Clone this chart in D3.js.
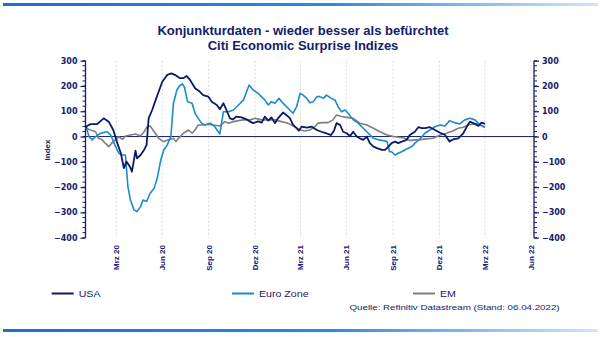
<!DOCTYPE html>
<html><head><meta charset="utf-8">
<script src="https://cdn.jsdelivr.net/npm/d3@7"></script>
<style>
html,body{margin:0;padding:0;background:#fff;}
svg{display:block;}
</style></head>
<body>
<svg id="chart" width="600" height="337"></svg>
<script>
// ---------- DATA ----------
const titleLines = ["Konjunkturdaten - wieder besser als befürchtet", "Citi Economic Surprise Indizes"];
const yLabel = "Index";
const seriesNames = ["USA", "Euro Zone", "EM"];
const sourceText = "Quelle: Refinitiv Datastream (Stand: 06.04.2022)";
const yTicks = [300, 200, 100, 0, -100, -200, -300, -400];
const xTickDates = ["2020-03-31","2020-06-30","2020-09-30","2020-12-31","2021-03-31","2021-06-30","2021-09-30","2021-12-31","2022-03-31","2022-06-30"];
const xTickLabels = ["Mrz 20","Jun 20","Sep 20","Dez 20","Mrz 21","Jun 21","Sep 21","Dez 21","Mrz 22","Jun 22"];

const usa = [
["2020-01-31",33],["2020-02-02",42],["2020-02-09",49],["2020-02-22",49],["2020-03-06",72],["2020-03-16",59],
["2020-03-25",26],["2020-04-02",-26],["2020-04-09",-66],["2020-04-15",-125],["2020-04-20",-99],["2020-04-27",-119],
["2020-05-01",-139],["2020-05-08",-56],["2020-05-11",-86],["2020-05-18",-73],["2020-05-25",-53],["2020-05-30",-33],
["2020-06-03",72],["2020-06-10",105],["2020-06-17",145],["2020-06-23",178],["2020-06-30",217],["2020-07-10",244],
["2020-07-18",250],["2020-07-25",244],["2020-08-04",231],["2020-08-11",231],["2020-08-17",240],["2020-08-24",224],
["2020-09-03",191],["2020-09-12",178],["2020-09-19",164],["2020-09-29",158],["2020-10-06",138],["2020-10-16",125],
["2020-10-22",108],["2020-10-29",132],["2020-11-04",105],["2020-11-11",72],["2020-11-17",68],["2020-11-24",79],
["2020-12-04",76],["2020-12-14",68],["2020-12-21",59],["2020-12-27",53],["2021-01-06",60],["2021-01-13",55],
["2021-01-19",79],["2021-01-26",63],["2021-02-01",76],["2021-02-08",53],["2021-02-14",72],["2021-02-24",95],
["2021-03-03",85],["2021-03-10",72],["2021-03-16",46],["2021-03-23",33],["2021-03-27",23],["2021-04-02",39],
["2021-04-12",35],["2021-04-22",39],["2021-05-02",26],["2021-05-11",19],["2021-05-21",13],["2021-05-30",6],
["2021-06-05",23],["2021-06-10",53],["2021-06-17",46],["2021-06-23",19],["2021-06-30",13],["2021-07-07",2],
["2021-07-13",19],["2021-07-20",0],["2021-07-26",-7],["2021-08-02",-13],["2021-08-09",0],["2021-08-15",-26],
["2021-08-22",-40],["2021-08-29",-46],["2021-09-08",-53],["2021-09-14",-53],["2021-09-21",-40],["2021-09-27",-26],
["2021-10-04",-20],["2021-10-10",-26],["2021-10-17",-20],["2021-10-27",-13],["2021-11-02",6],["2021-11-12",19],
["2021-11-19",37],["2021-11-26",33],["2021-12-02",33],["2021-12-12",37],["2021-12-22",26],["2022-01-01",15],
["2022-01-11",6],["2022-01-20",-20],["2022-01-27",-11],["2022-02-06",-7],["2022-02-16",13],["2022-02-23",39],
["2022-03-01",59],["2022-03-11",50],["2022-03-18",42],["2022-03-24",55],["2022-03-31",50]
];

const euro = [
["2020-01-31",39],["2020-02-06",0],["2020-02-12",-13],["2020-02-19",0],["2020-02-29",13],["2020-03-13",19],
["2020-03-20",6],["2020-03-28",-33],["2020-04-05",-66],["2020-04-12",-73],["2020-04-18",-73],["2020-04-23",-198],
["2020-04-28",-251],["2020-05-05",-290],["2020-05-11",-297],["2020-05-18",-277],["2020-05-23",-251],["2020-05-30",-257],
["2020-06-06",-224],["2020-06-14",-204],["2020-06-20",-165],["2020-06-27",-93],["2020-07-03",-53],["2020-07-10",-33],
["2020-07-17",0],["2020-07-22",130],["2020-07-29",185],["2020-08-03",200],["2020-08-09",208],["2020-08-13",195],
["2020-08-19",138],["2020-08-28",132],["2020-09-03",92],["2020-09-09",72],["2020-09-16",53],["2020-09-23",46],
["2020-10-03",53],["2020-10-12",39],["2020-10-22",10],["2020-10-29",98],["2020-11-08",98],["2020-11-18",105],
["2020-11-28",125],["2020-12-08",145],["2020-12-19",204],["2020-12-27",184],["2021-01-06",171],["2021-01-09",164],
["2021-01-19",145],["2021-01-26",125],["2021-02-01",138],["2021-02-08",132],["2021-02-16",151],["2021-02-24",132],
["2021-03-06",112],["2021-03-16",92],["2021-03-23",118],["2021-03-30",171],["2021-04-05",164],["2021-04-12",151],
["2021-04-18",134],["2021-04-25",138],["2021-05-02",158],["2021-05-08",158],["2021-05-15",151],["2021-05-21",164],
["2021-05-31",151],["2021-06-07",145],["2021-06-13",118],["2021-06-20",98],["2021-06-27",105],["2021-07-03",92],
["2021-07-13",66],["2021-07-23",53],["2021-08-02",33],["2021-08-12",13],["2021-08-22",-7],["2021-09-01",-13],
["2021-09-11",-16],["2021-09-18",-20],["2021-09-23",-60],["2021-09-27",-60],["2021-10-04",-73],["2021-10-10",-66],
["2021-10-17",-60],["2021-10-23",-53],["2021-10-30",-46],["2021-11-06",-40],["2021-11-12",-26],["2021-11-22",-10],
["2021-12-02",13],["2021-12-12",26],["2021-12-22",39],["2022-01-01",46],["2022-01-11",42],["2022-01-20",63],
["2022-01-30",55],["2022-02-09",50],["2022-02-19",66],["2022-03-01",72],["2022-03-11",66],["2022-03-21",46],
["2022-03-31",37]
];

const em = [
["2020-01-31",33],["2020-02-09",26],["2020-02-19",19],["2020-02-25",-7],["2020-03-03",-13],["2020-03-09",-26],
["2020-03-16",-40],["2020-03-22",-26],["2020-03-29",-13],["2020-04-05",0],["2020-04-12",-11],["2020-04-18",2],
["2020-04-28",6],["2020-05-08",10],["2020-05-18",2],["2020-05-25",19],["2020-05-31",39],["2020-06-06",42],
["2020-06-14",19],["2020-06-23",-7],["2020-07-03",-20],["2020-07-13",-13],["2020-07-22",-7],["2020-07-27",-20],
["2020-08-01",-7],["2020-08-11",13],["2020-08-21",26],["2020-08-28",13],["2020-09-03",26],["2020-09-09",46],
["2020-09-19",46],["2020-09-29",49],["2020-10-09",46],["2020-10-22",42],["2020-11-01",59],["2020-11-08",53],
["2020-11-18",59],["2020-11-28",63],["2020-12-08",66],["2020-12-21",66],["2020-12-31",72],["2021-01-13",66],
["2021-01-26",66],["2021-02-08",66],["2021-02-21",59],["2021-03-06",53],["2021-03-19",39],["2021-03-30",26],
["2021-04-08",22],["2021-04-18",26],["2021-04-28",39],["2021-05-04",53],["2021-05-14",55],["2021-05-24",55],
["2021-06-03",66],["2021-06-10",85],["2021-06-20",79],["2021-06-30",76],["2021-07-13",72],["2021-07-26",53],
["2021-08-09",46],["2021-08-22",33],["2021-09-04",19],["2021-09-18",6],["2021-10-01",0],["2021-10-14",-4],
["2021-10-23",-7],["2021-11-02",-16],["2021-11-12",-13],["2021-11-22",-12],["2021-12-05",-9],["2021-12-18",-7],
["2022-01-01",6],["2022-01-14",13],["2022-01-27",23],["2022-02-06",33],["2022-02-16",37],["2022-02-26",46],
["2022-03-08",50],["2022-03-18",50],["2022-03-31",37]
];

// ---------- CHART ----------
const navy = "#14206b";
const colors = ["#0b1a66", "#1a8bcb", "#7f7f7f"];
const svg = d3.select("#chart");
const parse = d3.timeParse("%Y-%m-%d");

const x = d3.scaleTime().domain([parse("2020-01-31"), parse("2022-07-06")]).range([86, 534]);
const y = d3.scaleLinear().domain([-400, 300]).range([237.7, 60.7]);

// gradient bars
const defs = svg.append("defs");
const g1 = defs.append("linearGradient").attr("id","barGrad").attr("x1","0%").attr("x2","100%");
g1.append("stop").attr("offset","0%").attr("stop-color","#1a6fcf");
g1.append("stop").attr("offset","55%").attr("stop-color","#2a8be0");
g1.append("stop").attr("offset","100%").attr("stop-color","#d3e5f7");
svg.append("rect").attr("x",3).attr("y",3).attr("width",595).attr("height",3).attr("fill","url(#barGrad)");
svg.append("rect").attr("x",3).attr("y",329).attr("width",595).attr("height",3).attr("fill","url(#barGrad)");

// title
svg.selectAll("text.title").data(titleLines).join("text")
  .attr("class","title")
  .attr("x",303).attr("y",(d,i)=>35 + i*14.5)
  .attr("text-anchor","middle")
  .attr("font-family","Liberation Sans, Arial, sans-serif")
  .attr("font-weight","bold").attr("font-size",13)
  .attr("fill",navy)
  .text(d=>d);

// gridlines
svg.append("g").selectAll("line").data(xTickDates).join("line")
  .attr("x1",d=>x(parse(d))).attr("x2",d=>x(parse(d)))
  .attr("y1",y(300)).attr("y2",y(-400))
  .attr("stroke","#d9d9d9").attr("stroke-width",1).attr("stroke-dasharray","2,2");

// minor ticks
const minor = d3.range(-400, 301, 20);
function drawAxis(xpos, side) {
  const g = svg.append("g").attr("transform",`translate(${xpos},0)`);
  g.append("line").attr("x1",0).attr("x2",0).attr("y1",y(300)).attr("y2",y(-400))
    .attr("stroke",navy).attr("stroke-width",1.3);
  g.selectAll("line.minor").data(minor).join("line").attr("class","minor")
    .attr("x1",0).attr("x2",side*3).attr("y1",d=>y(d)).attr("y2",d=>y(d))
    .attr("stroke",navy).attr("stroke-width",1);
  const axis = side < 0 ? d3.axisLeft(y) : d3.axisRight(y);
  axis.tickValues(yTicks).tickSize(5).tickPadding(3);
  const ax = g.append("g").call(axis);
  ax.select(".domain").remove();
  ax.selectAll(".tick line").attr("stroke",navy).attr("stroke-width",1.2);
  ax.selectAll(".tick text").attr("fill",navy)
    .attr("font-family","DejaVu Sans, sans-serif").attr("font-weight","bold").attr("font-size",8);
}
drawAxis(85.5, -1);
drawAxis(534, 1);

// y label
svg.append("text").attr("transform","translate(50,150) rotate(-90)")
  .attr("text-anchor","middle")
  .attr("font-family","Liberation Sans, Arial, sans-serif").attr("font-weight","bold").attr("font-size",8)
  .attr("fill",navy).text(yLabel);

// x tick labels
svg.append("g").selectAll("text").data(xTickDates).join("text")
  .attr("transform",(d)=>`translate(${x(parse(d))},245) rotate(-90)`)
  .attr("text-anchor","end").attr("dy","0.35em")
  .attr("font-family","Liberation Sans, Arial, sans-serif").attr("font-weight","bold").attr("font-size",8)
  .attr("fill",navy)
  .text((d,i)=>xTickLabels[i]);

// zero line
svg.append("line").attr("x1",86).attr("x2",534).attr("y1",y(0)).attr("y2",y(0))
  .attr("stroke",navy).attr("stroke-width",1);

// lines
const line = d3.line().x(d=>x(parse(d[0]))).y(d=>y(d[1]));
const seriesData = [usa, euro, em];
[2,1,0].forEach(i=>{
  svg.append("path").datum(seriesData[i]).attr("d",line)
    .attr("fill","none").attr("stroke",colors[i]).attr("stroke-width",i===0?1.8:1.6)
    .attr("stroke-linejoin","round");
});

// legend
const legX = [51.7, 232, 413];
seriesNames.forEach((n,i)=>{
  svg.append("line").attr("x1",legX[i]).attr("x2",legX[i]+22).attr("y1",293.5).attr("y2",293.5)
    .attr("stroke",colors[i]).attr("stroke-width",2);
  svg.append("text").attr("transform",`translate(${legX[i]+27},296.5) scale(1.25,1)`)
    .attr("font-family","Liberation Sans, Arial, sans-serif").attr("font-size",8.5)
    .attr("fill",navy).text(n);
});

// source
svg.append("text").attr("transform","translate(349.5,310) scale(1.22,1)")
  .attr("font-family","Liberation Sans, Arial, sans-serif").attr("font-size",8)
  .attr("fill",navy).text(sourceText);
</script>
</body></html>
